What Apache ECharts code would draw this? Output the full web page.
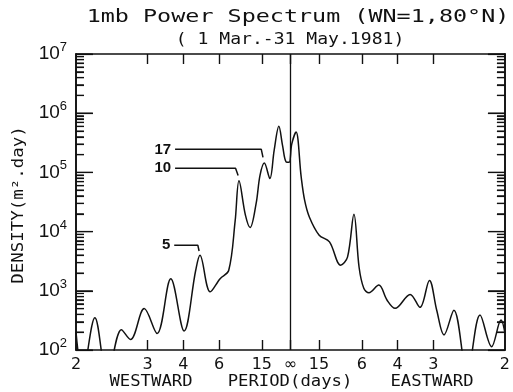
<!DOCTYPE html>
<html>
<head>
<meta charset="utf-8">
<script src="https://cdn.jsdelivr.net/npm/echarts@6/dist/echarts.min.js"></script>
<style>
html, body { margin: 0; padding: 0; background: #fff; }
#chart { width: 513px; height: 392px; }
</style>
</head>
<body>
<div id="chart"></div>
<script>
// frequency (cycles/day): negative = westward, positive = eastward
const freq = [
  -0.500, -0.485, -0.456, -0.427, -0.394, -0.373, -0.341, -0.311, -0.279, -0.248,
  -0.221, -0.211, -0.187, -0.164, -0.144, -0.129, -0.120, -0.105, -0.094, -0.080,
  -0.071, -0.061, -0.048, -0.038, -0.027, -0.0185, -0.010, -0.003, 0.003, 0.013,
  0.025, 0.033, 0.044, 0.067, 0.091, 0.117, 0.133, 0.148, 0.160, 0.171,
  0.183, 0.206, 0.225, 0.244, 0.279, 0.302, 0.324, 0.341, 0.358, 0.381,
  0.412, 0.442, 0.469, 0.491, 0.500
]
// 1mb power spectral density (m^2.day)
const density = [
  200, 40, 350, 35, 220, 150, 500, 190, 1600, 210,
  2200, 4000, 960, 1600, 2200, 15000, 72000, 19000, 11700, 30000,
  89000, 144000, 79000, 236000, 600000, 286000, 150000, 148000, 300000, 480000,
  84000, 34000, 17700, 8700, 6700, 2700, 3700, 19600, 2500, 1100,
  925, 1250, 700, 505, 870, 525, 1500, 470, 180, 470,
  40, 390, 114, 320, 195
]

// tick positions (frequency) and their period labels
const tickFreq = [-1 / 3, -1 / 4, -1 / 6, -1 / 15, 0, 1 / 15, 1 / 6, 1 / 4, 1 / 3]
const labelFreq = [-0.5, -1 / 3, -1 / 4, -1 / 6, -1 / 15, 0, 1 / 15, 1 / 6, 1 / 4, 1 / 3, 0.5]
const majorY = [1e2, 1e3, 1e4, 1e5, 1e6, 1e7]
const minorY = []
for (let d = 100; d < 1e7; d *= 10) {
  for (let k = 2; k <= 9; k++) minorY.push(k * d)
}

// peak labels with leader lines
const leaders = [
  { name: '17', f: [-0.269, -0.068, -0.064], d: [245000, 245000, 180000] },
  { name: '10', f: [-0.269, -0.128, -0.122], d: [118000, 118000, 89000] },
  { name: '5', f: [-0.271, -0.216, -0.213], d: [5900, 5900, 4700] }
]

const chart = echarts.init(document.getElementById('chart'))

const mono = 'DejaVu Sans Mono'
const black = '#111'
const plotW = 433 // grid width in px, used to turn tick lengths into frequency units

function xAxisCfg(pos, labels) {
  return {
    type: 'value',
    position: pos,
    min: -0.5,
    max: 0.5,
    axisLine: { show: true, onZero: false, lineStyle: { color: black, width: 1.6 } },
    axisTick: { show: true, inside: true, length: 10, customValues: tickFreq, lineStyle: { color: black, width: 1.4 } },
    axisLabel: {
      show: labels,
      customValues: labelFreq,
      margin: 7,
      color: black,
      fontSize: 16,
      fontFamily: 'DejaVu Sans',
      formatter: function(v) {
        if (Math.abs(v) < 1e-9) return '\u221e'
        return String(Math.round(1 / Math.abs(v)))
      }
    },
    splitLine: { show: false }
  }
}

function yAxisCfg(pos, ticks, len, labels) {
  const cfg = {
    type: 'log',
    position: pos,
    min: 100,
    max: 1e7,
    axisLine: { show: true, onZero: false, lineStyle: { color: black, width: 1.6 } },
    axisTick: { show: true, inside: true, length: len, customValues: ticks, lineStyle: { color: black, width: 1.2 } },
    axisLabel: { show: false },
    splitLine: { show: false }
  }
  if (labels) {
    cfg.axisLabel = {
      show: true,
      margin: 9,
      color: black,
      formatter: function(v) {
        return '{b|10}{e|' + Math.round(Math.log10(v)) + '}'
      },
      rich: {
        b: { fontSize: 19, color: black },
        e: { fontSize: 13, color: black, padding: [0, 0, 13, 0] }
      }
    }
  }
  return cfg
}

// inward y ticks on both frame sides, as broken line segments
const yTickData = []
function addTick(v, len) {
  const dx = len / plotW
  yTickData.push([-0.5, v], [-0.5 + dx, v], [-0.5, '-'])
  yTickData.push([0.5 - dx, v], [0.5, v], [0.5, '-'])
}
majorY.forEach(function(v) { addTick(v, 17) })
minorY.forEach(function(v) { addTick(v, 8) })

const tickSeries = {
  type: 'line',
  xAxisIndex: 0,
  yAxisIndex: 0,
  data: yTickData,
  connectNulls: false,
  showSymbol: false,
  symbol: 'none',
  silent: true,
  clip: false,
  lineStyle: { color: black, width: 1.2 }
}

const leaderSeries = leaders.map(function(l) {
  return {
    type: 'line',
    xAxisIndex: 0,
    yAxisIndex: 0,
    data: l.f.map(function(f, i) { return [f, l.d[i]] }),
    showSymbol: true,
    symbol: 'circle',
    symbolSize: 0,
    silent: true,
    lineStyle: { color: black, width: 1.5 },
    itemStyle: { color: black },
    label: {
      show: true,
      position: 'left',
      distance: 4,
      color: black,
      fontSize: 15,
      fontWeight: 'bold',
      fontFamily: 'Liberation Sans',
      formatter: function(p) { return p.dataIndex === 0 ? l.name : '' }
    }
  }
})

function txt(text, x, y, size, sx, rot) {
  return {
    type: 'text',
    x: x,
    y: y,
    rotation: rot || 0,
    scaleX: sx,
    silent: true,
    style: {
      text: text,
      fill: black,
      font: size + 'px "' + mono + '"',
      align: 'center',
      verticalAlign: 'middle'
    }
  }
}

chart.setOption({
  animation: false,
  grid: { left: 76, right: 4, top: 54, bottom: 42 },
  xAxis: [xAxisCfg('bottom', true), xAxisCfg('top', false)],
  yAxis: [
    yAxisCfg('left', majorY, 17, true),
    yAxisCfg('left', minorY, 8, false),
    yAxisCfg('right', majorY, 17, false),
    yAxisCfg('right', minorY, 8, false)
  ],
  series: [{
    type: 'line',
    name: 'density',
    xAxisIndex: 0,
    yAxisIndex: 0,
    data: freq.map(function(f, i) { return [f, density[i]] }),
    smooth: 0.35,
    showSymbol: false,
    symbol: 'none',
    clip: true,
    lineStyle: { color: black, width: 1.5 },
    markLine: {
      silent: true,
      symbol: 'none',
      label: { show: false },
      lineStyle: { color: black, width: 1.3, type: 'solid' },
      data: [{ xAxis: 0 }]
    }
  }, tickSeries].concat(leaderSeries),
  graphic: [
    txt('1mb Power Spectrum (WN=1,80\u00b0N)', 298, 17, 18, 1.3),
    txt('( 1 Mar.-31 May.1981)', 290, 40, 16, 1.13),
    txt('DENSITY(m\u00b2.day)', 19, 205, 16, 1.09, Math.PI / 2),
    txt('WESTWARD', 151, 382, 15, 1.15),
    txt('PERIOD(days)', 290, 382, 15, 1.15),
    txt('EASTWARD', 432, 382, 15, 1.15)
  ]
})
</script>
</body>
</html>
